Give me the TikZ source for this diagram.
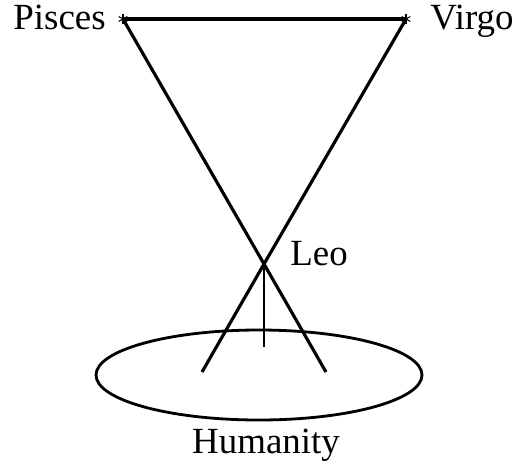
\documentclass[tikz,border=0pt]{standalone}
\usepackage{fontspec}
\setmainfont{Liberation Serif}
\begin{document}
\begin{tikzpicture}[x=.02cm,y=-.02cm,
      sign/.style={font=\fontsize{21}{23}\selectfont, text=black, inner sep=0pt},
      ray/.style={draw=black, line width=1.8pt},
      plumb/.style={draw=black, line width=.7pt},
      disc/.style={draw=black, line width=1.6pt}]
      \useasboundingbox (0,0) rectangle (514,464);
      \fill[white] (0,0) rectangle (514,464);

      \coordinate (pisces) at (123,19);
      \coordinate (virgo) at (406,19);
      \coordinate (leo) at (264,264);
      \coordinate (footL) at (202,372);
      \coordinate (footR) at (326,372);
      \coordinate (plumbEnd) at (264,347);

      \draw[ray] (pisces) -- (virgo);
      \draw[ray] (pisces) -- (leo) -- (footR);
      \draw[ray] (virgo) -- (leo) -- (footL);
      \draw[plumb] (leo) -- (plumbEnd);
      \draw[disc] (259,375) ellipse (163 and 45);

      % star marks
      \foreach \p in {pisces,virgo}{
        \foreach \a in {90,30,150}{
          \draw[line width=.6pt] ([shift={(\a:5)}]\p) -- ([shift={(\a+180:5)}]\p);}}

      \node[sign, anchor=base east] (piscesLabel) at (106,29) {Pisces};
      \node[sign, anchor=base west] (virgoLabel) at (430,29) {Virgo};
      \node[sign, anchor=base west] (leoLabel) at (290,265) {Leo};
      \node[sign, anchor=base] (humanityLabel) at (266,453) {Humanity};
    \end{tikzpicture}
\end{document}
